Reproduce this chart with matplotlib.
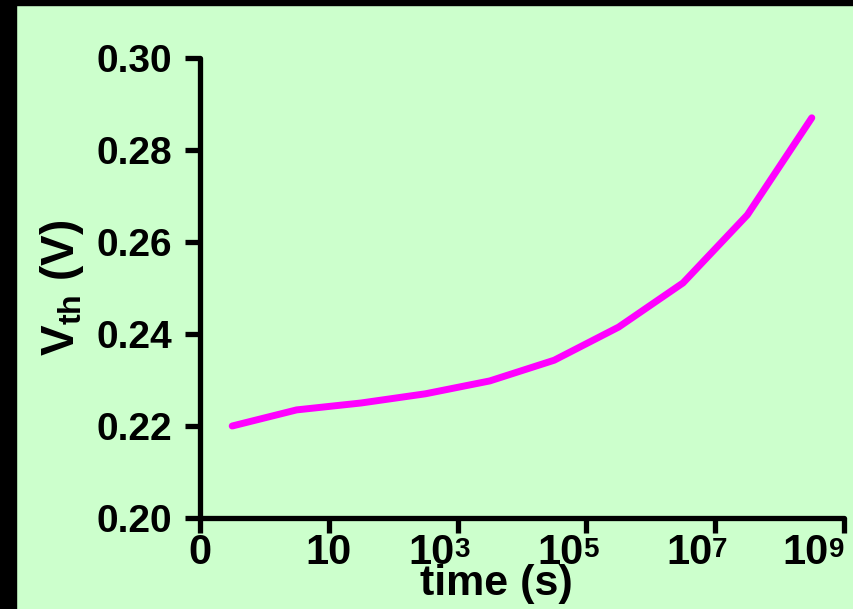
import matplotlib.pyplot as plt
from matplotlib.patches import Rectangle
from matplotlib.transforms import ScaledTranslation, blended_transform_factory

# log10(time) positions of the measured points (the "0" tick sits at -1)
log_time = [-0.5, 0.5, 1.5, 2.5, 3.5, 4.5, 5.5, 6.5, 7.5, 8.5]
vth = [0.2200, 0.2235, 0.2250, 0.2270, 0.2298, 0.2343, 0.2415, 0.2511, 0.2659, 0.2870]

xtick_pos = [-1, 1, 3, 5, 7, 9]
xtick_base = ['0', '10', '10', '10', '10', '10']
xtick_exp = ['', '', '3', '5', '7', '9']
ytick_pos = [0.20, 0.22, 0.24, 0.26, 0.28, 0.30]
ytick_labels = ['0.20', '0.22', '0.24', '0.26', '0.28', '0.30']

plt.rcParams['font.family'] = 'Liberation Sans'
plt.rcParams['font.weight'] = 'bold'
plt.rcParams['mathtext.fontset'] = 'custom'
plt.rcParams['mathtext.rm'] = 'Liberation Sans:bold'
plt.rcParams['mathtext.bf'] = 'Liberation Sans:bold'
plt.rcParams['mathtext.it'] = 'Liberation Sans:bold'

fig = plt.figure(figsize=(8.54, 6.09), dpi=100)
fig.patch.set_facecolor('#ccffcc')
# black frame on the left and top
fig.add_artist(Rectangle((0, 0), 16 / 854, 1, transform=fig.transFigure, color='black', zorder=0))
fig.add_artist(Rectangle((0, 1 - 5 / 609), 1, 5 / 609, transform=fig.transFigure, color='black', zorder=0))

ax = fig.add_axes([200 / 854, 1 - 518 / 609, 644 / 854, 460 / 609])
ax.set_facecolor('none')
ax.plot(log_time, vth, color='#ff00ff', lw=5, solid_capstyle='round', clip_on=False)

ax.set_xlim(-1, 9)
ax.set_ylim(0.20, 0.30)
ax.set_xticks(xtick_pos)
ax.set_xticklabels(xtick_base)
ax.set_yticks(ytick_pos)
ax.set_yticklabels(ytick_labels)

for s in ['top', 'right']:
    ax.spines[s].set_visible(False)
for s in ['left', 'bottom']:
    ax.spines[s].set_linewidth(3.8)
    ax.spines[s].set_capstyle('round')
ax.tick_params(axis='both', direction='out', length=11, width=3.8)
ax.tick_params(axis='y', labelsize=28, pad=9)
ax.tick_params(axis='x', labelsize=30, pad=0)

# powers of ten: the "10" ends at the tick and the exponent sits up to its right
shifts = [0, 0, -3, -3, -3, -15]
trans = blended_transform_factory(ax.transData, ax.transAxes)
for lab, x, e, dx in zip(ax.get_xticklabels(), xtick_pos, xtick_exp, shifts):
    if not e:
        continue
    lab.set_horizontalalignment('right')
    off = ScaledTranslation(dx / 100, 0, fig.dpi_scale_trans)
    lab.set_transform(lab.get_transform() + off)
    ax.text(x, -0.042, e, fontsize=20, fontweight='bold', ha='left', va='top',
            transform=trans + off, clip_on=False)

ax.set_xlabel('time (s)', fontsize=31, fontweight='bold')
ax.xaxis.set_label_coords(0.46, -0.100)
ax.set_ylabel(r'$\mathbf{V_{th}}$ (V)', fontsize=33, fontweight='bold')
ax.yaxis.set_label_coords(-0.177, 0.5)

plt.savefig('out.png', dpi=100, facecolor=fig.get_facecolor())
